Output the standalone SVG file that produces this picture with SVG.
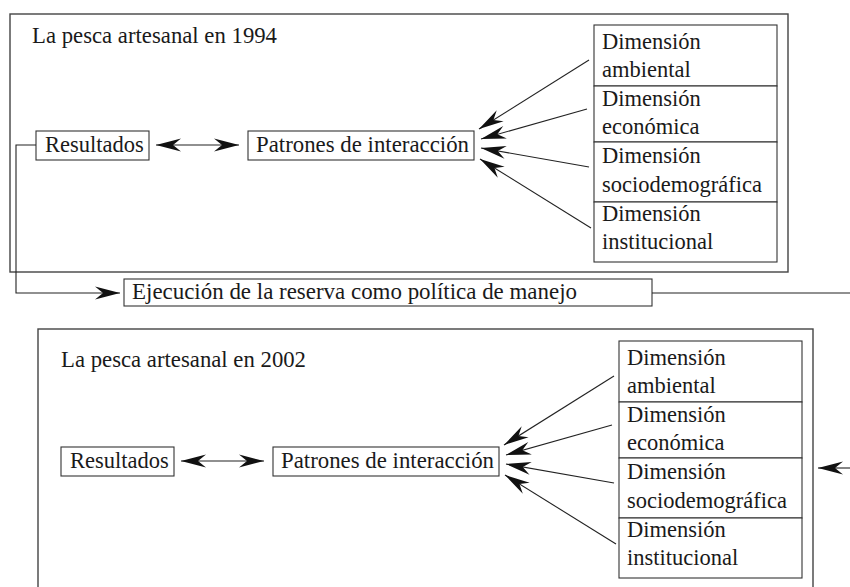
<svg xmlns="http://www.w3.org/2000/svg" width="850" height="587" viewBox="0 0 850 587">
<style>
text{font-family:"Liberation Serif","Times New Roman",serif;font-size:22.5px;fill:#1a1a1a}
.frame{fill:none;stroke:#444;stroke-width:1.4}
.box{fill:#fff;stroke:#333;stroke-width:1.1}
.ln{fill:none;stroke:#222;stroke-width:1.1}
</style>
<defs>
<marker id="ah" markerUnits="userSpaceOnUse" markerWidth="30" markerHeight="16" viewBox="-28 -8 30 16" refX="0" refY="0" orient="auto-start-reverse">
<path d="M0,0 L-25,-6.5 L-17,0 L-25,6.5 Z" fill="#111"/>
</marker>
</defs>
<g id="frame1">
<rect class="frame" x="10" y="14" width="778" height="258"/>
<text x="32" y="43" textLength="245" lengthAdjust="spacingAndGlyphs">La pesca artesanal en 1994</text>
</g>
<g id="resultados1"><rect class="box" x="36" y="131" width="113" height="29"/><text x="45" y="152">Resultados</text></g>
<g id="patrones1"><rect class="box" x="248" y="131" width="226" height="29"/><text x="256" y="152" textLength="213" lengthAdjust="spacingAndGlyphs">Patrones de interacción</text></g>
<g id="dim1">
<rect class="box" x="594" y="25" width="183" height="61"/>
<rect class="box" x="594" y="86" width="183" height="56"/>
<rect class="box" x="594" y="142" width="183" height="60"/>
<rect class="box" x="594" y="202" width="183" height="60"/>
<text x="602" y="49">Dimensión</text><text x="602" y="77">ambiental</text>
<text x="602" y="106">Dimensión</text><text x="602" y="134">económica</text>
<text x="602" y="163">Dimensión</text><text x="602" y="192">sociodemográfica</text>
<text x="602" y="221">Dimensión</text><text x="602" y="249">institucional</text>
</g>
<g id="ejecucion"><rect class="box" x="124" y="279" width="528" height="27"/><text x="132" y="299" textLength="445" lengthAdjust="spacingAndGlyphs">Ejecución de la reserva como política de manejo</text></g>
<g id="frame2">
<rect class="frame" x="38" y="329" width="775" height="280"/>
<text x="61" y="367" textLength="245" lengthAdjust="spacingAndGlyphs">La pesca artesanal en 2002</text>
</g>
<g id="resultados2"><rect class="box" x="61" y="447" width="113" height="29"/><text x="70" y="468">Resultados</text></g>
<g id="patrones2"><rect class="box" x="273" y="447" width="226" height="29"/><text x="281" y="468" textLength="213" lengthAdjust="spacingAndGlyphs">Patrones de interacción</text></g>
<g id="dim2">
<rect class="box" x="619" y="341" width="183" height="61"/>
<rect class="box" x="619" y="402" width="183" height="56"/>
<rect class="box" x="619" y="458" width="183" height="60"/>
<rect class="box" x="619" y="518" width="183" height="60"/>
<text x="627" y="365">Dimensión</text><text x="627" y="393">ambiental</text>
<text x="627" y="422">Dimensión</text><text x="627" y="450">económica</text>
<text x="627" y="479">Dimensión</text><text x="627" y="508">sociodemográfica</text>
<text x="627" y="537">Dimensión</text><text x="627" y="565">institucional</text>
</g>
<g id="connectors">
<line class="ln" x1="156" y1="145" x2="239" y2="145" marker-start="url(#ah)" marker-end="url(#ah)"/>
<line class="ln" x1="589" y1="60" x2="479" y2="129" marker-end="url(#ah)"/>
<line class="ln" x1="587" y1="109" x2="481" y2="139" marker-end="url(#ah)"/>
<line class="ln" x1="589" y1="167" x2="481" y2="148" marker-end="url(#ah)"/>
<line class="ln" x1="591" y1="228" x2="480" y2="159" marker-end="url(#ah)"/>
<polyline class="ln" points="36,145 16,145 16,293 120,293" marker-end="url(#ah)"/>
<line class="ln" x1="652" y1="293" x2="850" y2="293"/>
<line class="ln" x1="850" y1="468" x2="818" y2="468" marker-end="url(#ah)"/>
<line class="ln" x1="181" y1="461" x2="264" y2="461" marker-start="url(#ah)" marker-end="url(#ah)"/>
<line class="ln" x1="614" y1="376" x2="504" y2="445" marker-end="url(#ah)"/>
<line class="ln" x1="612" y1="425" x2="506" y2="455" marker-end="url(#ah)"/>
<line class="ln" x1="614" y1="483" x2="506" y2="464" marker-end="url(#ah)"/>
<line class="ln" x1="616" y1="544" x2="505" y2="475" marker-end="url(#ah)"/>
</g>
</svg>
